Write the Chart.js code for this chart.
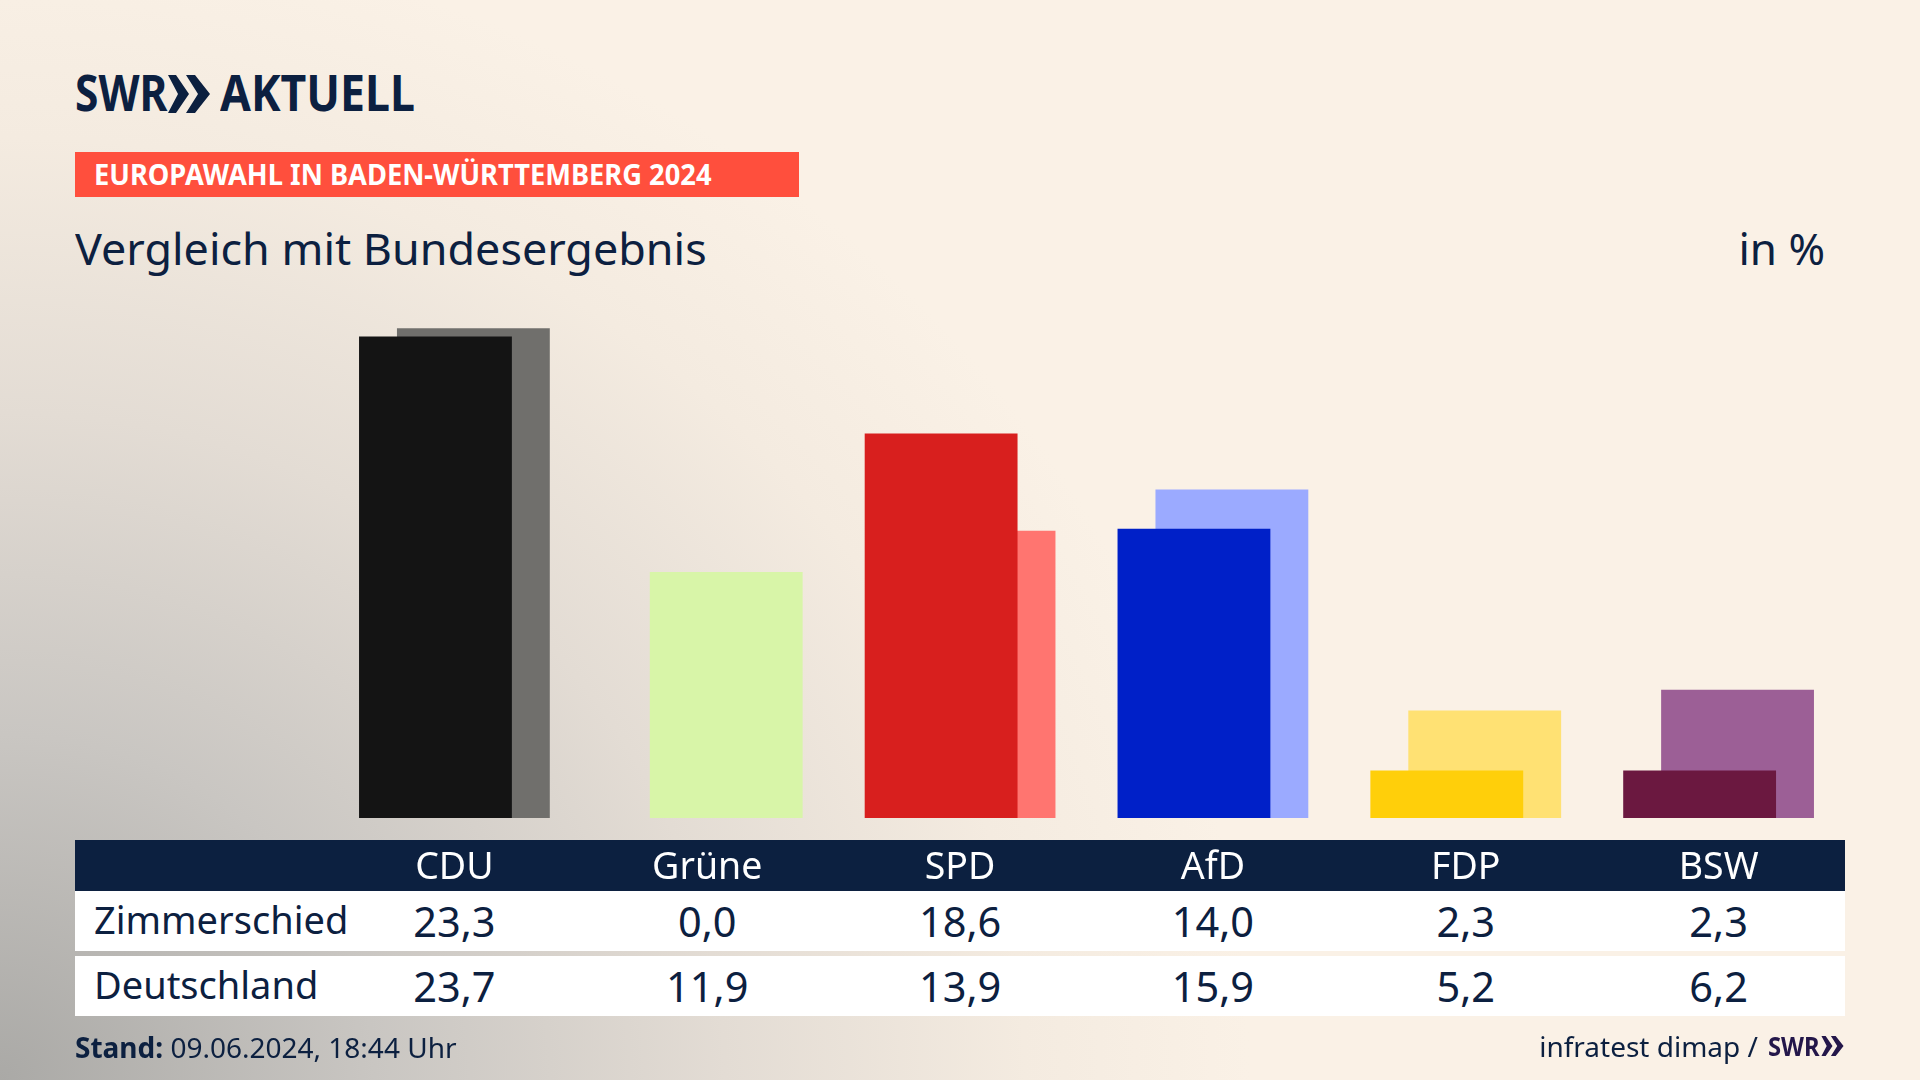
<!DOCTYPE html>
<html lang="de"><head><meta charset="utf-8">
<script src="https://cdn.jsdelivr.net/npm/chart.js@4"></script>
<style>
html,body{margin:0;padding:0;width:1920px;height:1080px;overflow:hidden}
body{position:relative;font-family:"Noto Sans",sans-serif;color:#0c2040;
background:radial-gradient(ellipse 1250px 1150px at 0 100%,#aaa9a6 0%,#c9c6c2 30%,#e3dcd4 58%,#f4ebe0 82%,#faf1e6 100%),#faf1e6}
.a{position:absolute;white-space:nowrap}
.w{position:absolute;background:#fff}
#cv{position:absolute;left:0;top:0}
.lab,.val{position:absolute;font-size:38px;line-height:60px}
.val{transform:translateX(-50%);font-size:41.5px}
svg{position:absolute}
</style></head><body>
<div class="a" style="left:75px;top:61px;font-weight:700;font-size:50px;line-height:62px;transform:scaleX(.85);transform-origin:0 0">SWR</div>
<svg style="left:168px;top:75px" width="42" height="38" viewBox="0 0 42 38" fill="#0c2040"><polygon points="0,0 8,0 21,19 8,38 0,38 10,19"/><polygon points="18,0 27,0 42,19 27,38 18,38 30,19"/></svg>
<div class="a" style="left:220px;top:61px;font-weight:700;font-size:50px;line-height:62px;transform:scaleX(.893);transform-origin:0 0">AKTUELL</div>
<div class="a" style="left:75px;top:152px;width:724px;height:45px;background:#ff4f3d"></div>
<div class="a" style="left:94px;top:152px;color:#fff;font-weight:700;font-size:28px;line-height:45px;transform:scaleX(.974);transform-origin:0 0">EUROPAWAHL IN BADEN-WÜRTTEMBERG 2024</div>
<div class="a" style="left:75px;top:218px;font-size:44px;line-height:60px;transform:scaleX(1.02);transform-origin:0 0">Vergleich mit Bundesergebnis</div>
<div class="a" style="right:95px;top:218px;font-size:44px;line-height:60px">in %</div>
<div class="a" style="left:75px;top:840px;width:1770px;height:51px;background:#0c2040"></div>
<div class="w" style="left:75px;top:891px;width:1770px;height:60px"></div>
<div class="w" style="left:75px;top:956px;width:1770px;height:60px"></div>
<div id="rows"></div>
<canvas id="cv" width="1920" height="1080"></canvas>
<div class="a" style="left:75px;top:1026px;font-size:28px;line-height:42px"><b>Stand:</b> 09.06.2024, 18:44 Uhr</div>
<div class="a" style="right:162px;top:1025px;font-size:28px;line-height:42px">infratest dimap /</div>
<div class="a" style="left:1768px;top:1025px;font-size:27px;font-weight:700;line-height:42px;color:#24174a;transform:scaleX(.88);transform-origin:0 0">SWR</div>
<svg style="left:1821px;top:1036px" width="23" height="20" viewBox="0 0 42 38" fill="#24174a"><polygon points="0,0 8,0 21,19 8,38 0,38 10,19"/><polygon points="18,0 27,0 42,19 27,38 18,38 30,19"/></svg>
<script>
const categories = ["CDU","Grüne","SPD","AfD","FDP","BSW"];
const zimmerschied = [23.3,0.0,18.6,14.0,2.3,2.3];
const deutschland = [23.7,11.9,13.9,15.9,5.2,6.2];
const rowNames = ["Zimmerschied","Deutschland"];
const frontColors = ["#141414","#d8f5a8","#d81f1e","#0020c8","#ffcf0a","#6b1840"];
const backColors = ["#706f6c","#d8f5a8","#ff7570","#9baaff","#ffe173","#9c5f96"];
const fmt = v => v.toFixed(1).replace(".",",");

const chart = new Chart(document.getElementById("cv"),{
  type:"bar",
  data:{labels:categories,datasets:[
    {label:rowNames[0],data:zimmerschied,backgroundColor:frontColors,order:0,borderWidth:0},
    {label:rowNames[1],data:deutschland,backgroundColor:backColors,order:1,borderWidth:0}
  ]},
  options:{
    responsive:false,animation:false,devicePixelRatio:1,
    categoryPercentage:0.3,barPercentage:4.03,
    layout:{padding:{left:328,right:75,top:198,bottom:172}},
    plugins:{legend:{display:false},tooltip:{enabled:false},title:{display:false}},
    scales:{
      x:{grid:{display:false,drawTicks:false},border:{display:false},
         afterFit:s=>{s.height=90},
         ticks:{color:"#ffffff",font:{family:"Noto Sans",size:37.5},padding:28,maxRotation:0}},
      y:{display:false,min:0,max:30}
    }
  }
});
const rows = document.getElementById("rows");
[zimmerschied,deutschland].forEach((arr,r)=>{
  const top = r===0?891:956;
  const l=document.createElement("div");l.className="lab";l.style.cssText=`left:94px;top:${top-2}px`;l.textContent=rowNames[r];rows.appendChild(l);
  arr.forEach((v,i)=>{const d=document.createElement("div");d.className="val";
    d.style.left=chart.scales.x.getPixelForValue(i)+"px";d.style.top=(top)+"px";d.textContent=fmt(v);rows.appendChild(d);});
});
</script>
</body></html>
